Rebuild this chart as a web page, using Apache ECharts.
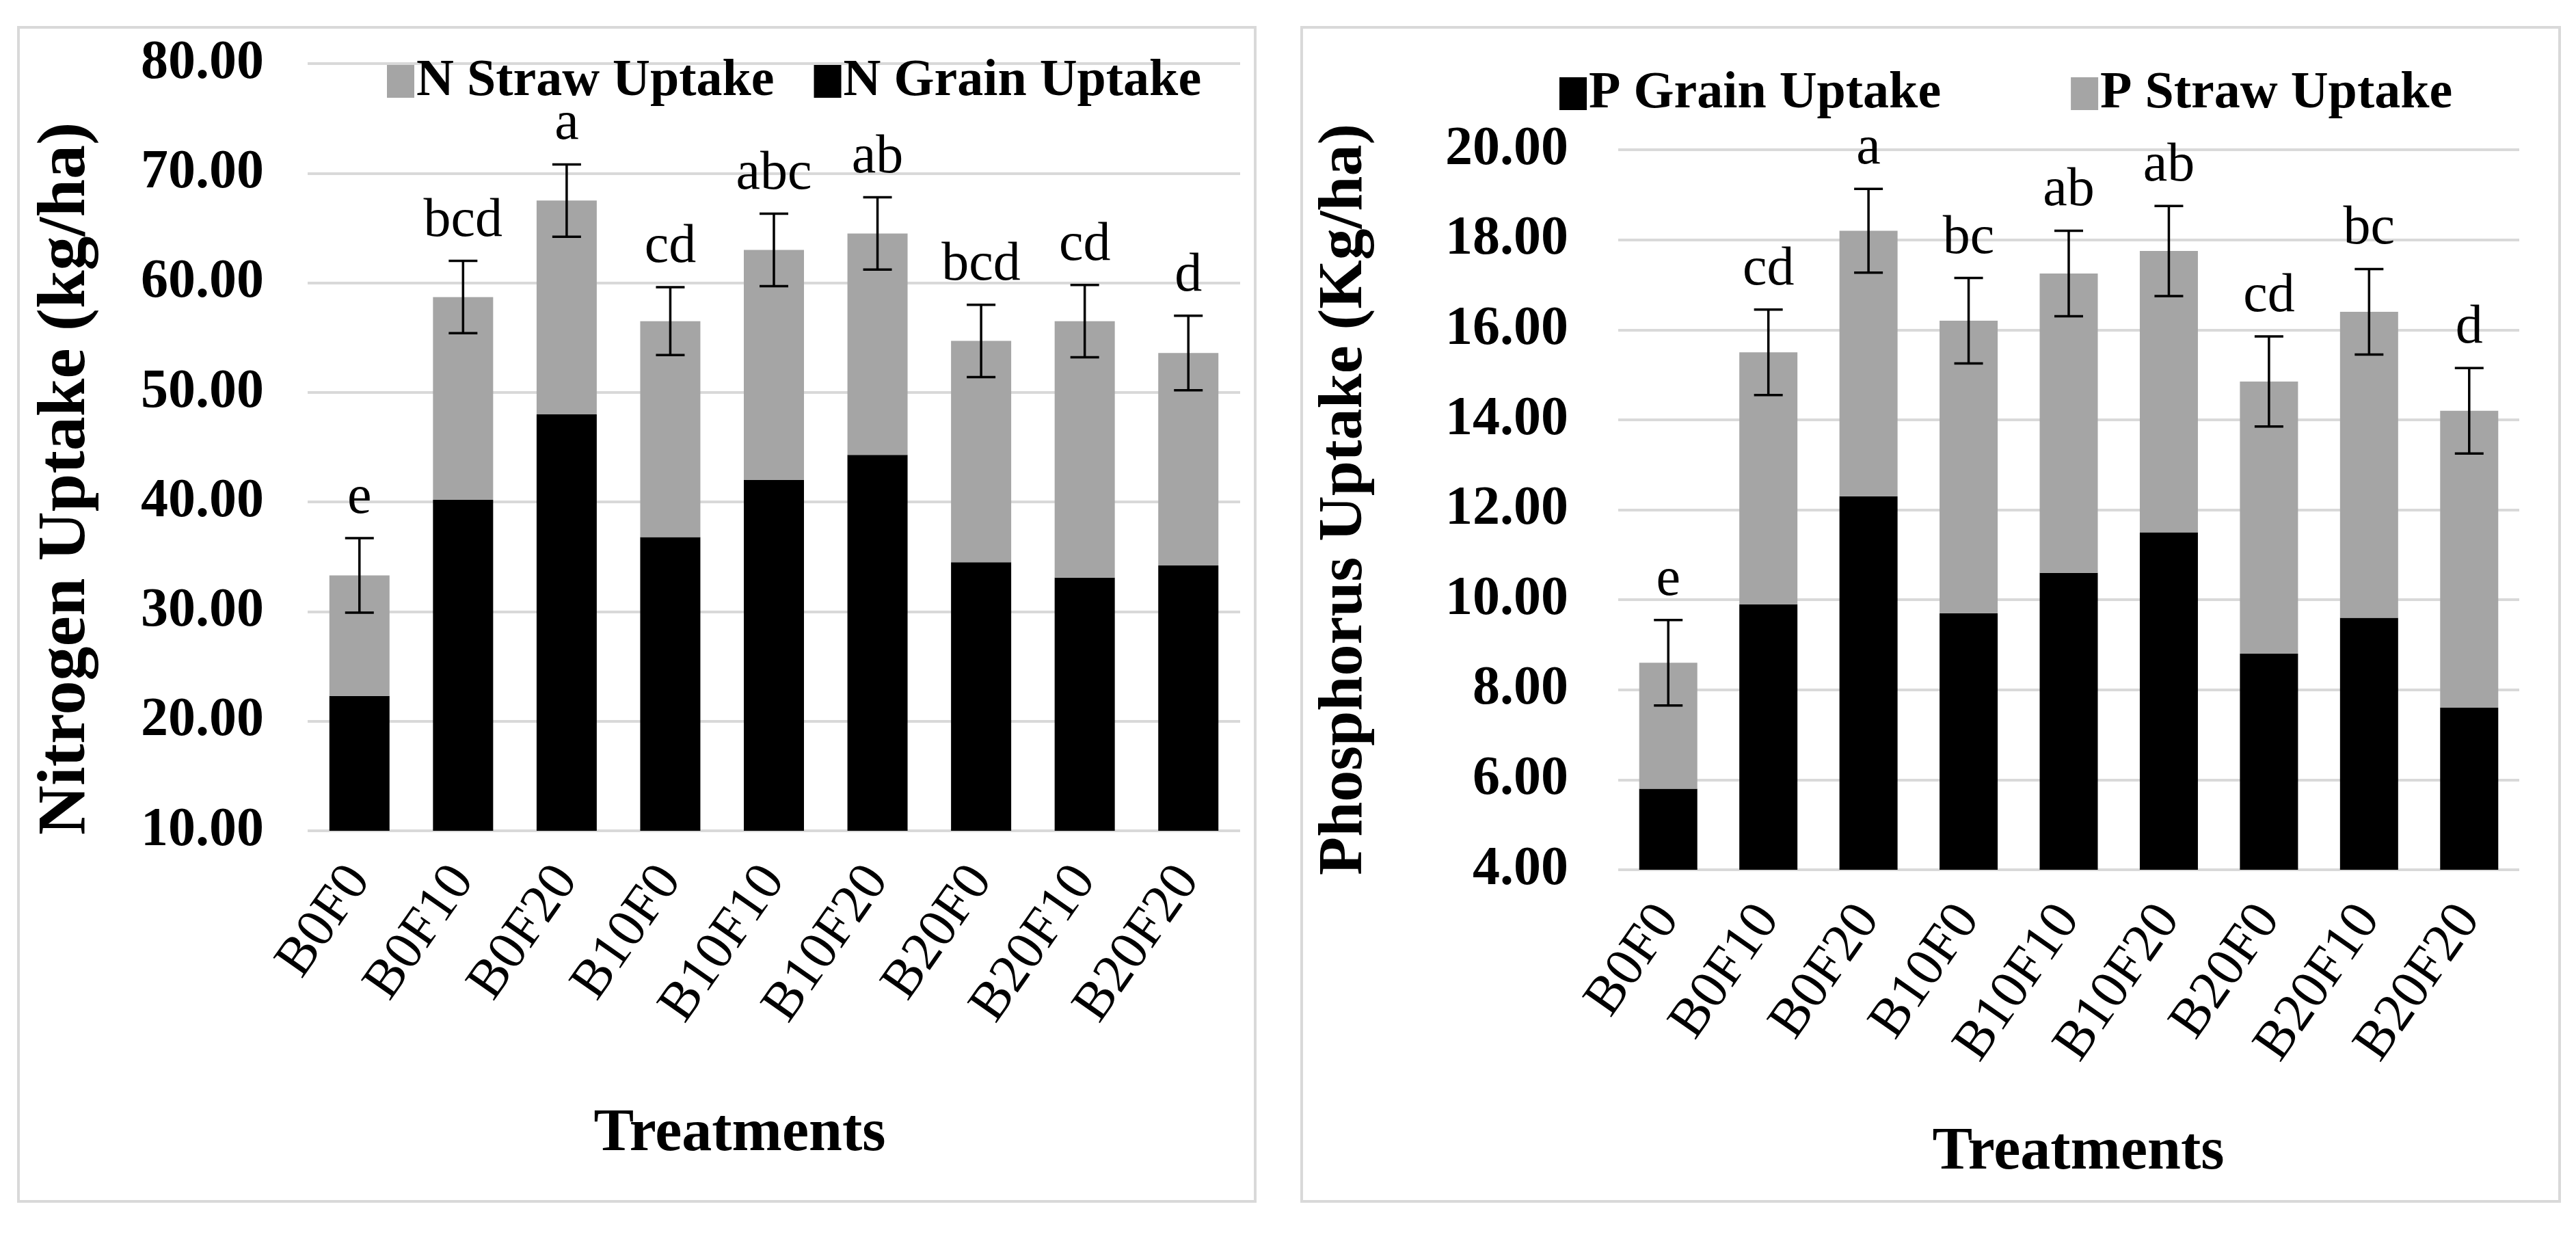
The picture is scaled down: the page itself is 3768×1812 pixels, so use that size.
<!DOCTYPE html>
<html>
<head>
<meta charset="utf-8">
<script src="https://cdn.jsdelivr.net/npm/echarts@6/dist/echarts.min.js"></script>
<style>
html,body{margin:0;padding:0;background:#fff;}
#chart{width:3768px;height:1812px;}
</style>
</head>
<body>
<div id="chart"></div>
<script>
// ---- Data ----
const treatments = ['B0F0','B0F10','B0F20','B10F0','B10F10','B10F20','B20F0','B20F10','B20F20'];

// Nitrogen (kg/ha)
const nGrain = [22.3, 40.2, 48.0, 36.8, 42.0, 44.3, 34.5, 33.1, 34.2];
const nStraw = [11.0, 18.5, 19.5, 19.7, 21.0, 20.2, 20.2, 23.4, 19.4];
const nErr   = [3.4, 3.3, 3.3, 3.1, 3.3, 3.3, 3.3, 3.3, 3.4];
const nLetters = ['e','bcd','a','cd','abc','ab','bcd','cd','d'];
const nTicks = [10, 20, 30, 40, 50, 60, 70, 80];

// Phosphorus (Kg/ha)
const pGrain = [5.8, 9.9, 12.3, 9.7, 10.6, 11.5, 8.8, 9.6, 7.6];
const pStraw = [2.8, 5.6, 5.9, 6.5, 6.65, 6.25, 6.05, 6.8, 6.6];
const pErr   = [0.95, 0.95, 0.93, 0.95, 0.95, 1.0, 1.0, 0.95, 0.95];
const pLetters = ['e','cd','a','bc','ab','ab','cd','bc','d'];
const pTicks = [4, 6, 8, 10, 12, 14, 16, 18, 20];

// ---- Chart ----
const FONT = '"Liberation Serif", "Times New Roman", serif';
const GRAY = '#a5a5a5';
const BLACK = '#000000';

function totals(a, b) { return a.map((v, i) => v + b[i]); }
function errData(grain, straw, err, letters) {
  const t = totals(grain, straw);
  return t.map((v, i) => [i, v, err[i], letters[i]]);
}

function errSeries(xIdx, yIdx, data) {
  return {
    type: 'custom',
    xAxisIndex: xIdx, yAxisIndex: yIdx,
    clip: false, z: 10, silent: true,
    encode: { x: 0, y: 1 },
    data: data,
    renderItem: function (params, api) {
      const x = api.value(0), v = api.value(1), e = api.value(2);
      const hi = api.coord([x, v + e]);
      const lo = api.coord([x, v - e]);
      const cap = 21;
      const st = { stroke: '#000', lineWidth: 3.5 };
      return {
        type: 'group',
        children: [
          { type: 'line', shape: { x1: hi[0], y1: hi[1], x2: lo[0], y2: lo[1] }, style: st },
          { type: 'line', shape: { x1: hi[0] - cap, y1: hi[1], x2: hi[0] + cap, y2: hi[1] }, style: st },
          { type: 'line', shape: { x1: lo[0] - cap, y1: lo[1], x2: lo[0] + cap, y2: lo[1] }, style: st },
          { type: 'text', x: hi[0], y: hi[1] - 18,
            style: { text: data[params.dataIndex][3], fill: '#000', font: '80px ' + FONT,
                     textAlign: 'center', textVerticalAlign: 'bottom' } }
        ]
      };
    }
  };
}

const yLabel = { fontFamily: FONT, fontSize: 80, fontWeight: 'bold', color: '#000',
                 formatter: v => v.toFixed(2) };
const xLabel = { fontFamily: FONT, fontSize: 80, color: '#000', rotate: 55, interval: 0 };
const split = { show: true, lineStyle: { color: '#d9d9d9', width: 4 } };

const option = {
  backgroundColor: '#fff',
  animation: false,
  graphic: [
    { type: 'rect', shape: { x: 27, y: 40, width: 1809, height: 1717 },
      style: { fill: 'none', stroke: '#d9d9d9', lineWidth: 4 }, silent: true, z: -1 },
    { type: 'rect', shape: { x: 1904, y: 40, width: 1840, height: 1717 },
      style: { fill: 'none', stroke: '#d9d9d9', lineWidth: 4 }, silent: true, z: -1 }
  ],
  legend: [
    { data: ['N Straw Uptake', 'N Grain Uptake'], left: 561, top: 76,
      icon: 'rect', itemWidth: 40, itemHeight: 48, itemGap: 58,
      textStyle: { fontFamily: FONT, fontSize: 76, fontWeight: 'bold', color: '#000', padding: [0,0,0,-2] } },
    { data: ['P Grain Uptake', 'P Straw Uptake'], left: 2276, top: 94,
      icon: 'rect', itemWidth: 40, itemHeight: 48, itemGap: 190,
      textStyle: { fontFamily: FONT, fontSize: 76, fontWeight: 'bold', color: '#000', padding: [0,0,0,-2] } }
  ],
  grid: [
    { left: 450, width: 1364, top: 93, height: 1122 },
    { left: 2367, width: 1318, top: 219, height: 1053 }
  ],
  xAxis: [
    { type: 'category', gridIndex: 0, data: treatments,
      axisLine: { show: false }, axisTick: { show: false },
      axisLabel: Object.assign({ margin: 60 }, xLabel),
      name: 'Treatments', nameLocation: 'middle', nameGap: 400,
      nameTextStyle: { fontFamily: FONT, fontSize: 88, fontWeight: 'bold', color: '#000', padding: [0, 100, 0, 0] } },
    { type: 'category', gridIndex: 1, data: treatments,
      axisLine: { show: false }, axisTick: { show: false },
      axisLabel: Object.assign({ margin: 60 }, xLabel),
      name: 'Treatments', nameLocation: 'middle', nameGap: 370,
      nameTextStyle: { fontFamily: FONT, fontSize: 88, fontWeight: 'bold', color: '#000', padding: [0, 0, 0, 28] } }
  ],
  yAxis: [
    { type: 'value', gridIndex: 0, min: nTicks[0], max: nTicks[nTicks.length - 1], interval: 10,
      axisLine: { show: false }, axisTick: { show: false }, splitLine: split,
      axisLabel: Object.assign({ margin: 64 }, yLabel),
      name: 'Nitrogen Uptake (kg/ha)', nameLocation: 'middle', nameGap: 303, nameRotate: 90,
      nameTextStyle: { fontFamily: FONT, fontSize: 100, fontWeight: 'bold', color: '#000', padding: [0, 92, 0, 0] } },
    { type: 'value', gridIndex: 1, min: pTicks[0], max: pTicks[pTicks.length - 1], interval: 2,
      axisLine: { show: false }, axisTick: { show: false }, splitLine: split,
      axisLabel: Object.assign({ margin: 73 }, yLabel),
      name: 'Phosphorus Uptake (Kg/ha)', nameLocation: 'middle', nameGap: 354, nameRotate: 90,
      nameTextStyle: { fontFamily: FONT, fontSize: 92, fontWeight: 'bold', color: '#000', padding: [0, 0, 0, 30] } }
  ],
  series: [
    { name: 'N Grain Uptake', type: 'bar', stack: 'n', xAxisIndex: 0, yAxisIndex: 0,
      barWidth: 88, clip: true, itemStyle: { color: BLACK }, data: nGrain },
    { name: 'N Straw Uptake', type: 'bar', stack: 'n', xAxisIndex: 0, yAxisIndex: 0,
      barWidth: 88, clip: true, itemStyle: { color: GRAY }, data: nStraw },
    errSeries(0, 0, errData(nGrain, nStraw, nErr, nLetters)),
    { name: 'P Grain Uptake', type: 'bar', stack: 'p', xAxisIndex: 1, yAxisIndex: 1,
      barWidth: 85, clip: true, itemStyle: { color: BLACK }, data: pGrain },
    { name: 'P Straw Uptake', type: 'bar', stack: 'p', xAxisIndex: 1, yAxisIndex: 1,
      barWidth: 85, clip: true, itemStyle: { color: GRAY }, data: pStraw },
    errSeries(1, 1, errData(pGrain, pStraw, pErr, pLetters))
  ]
};

const chart = echarts.init(document.getElementById('chart'), null, { renderer: 'canvas' });
chart.setOption(option);
</script>
</body>
</html>
